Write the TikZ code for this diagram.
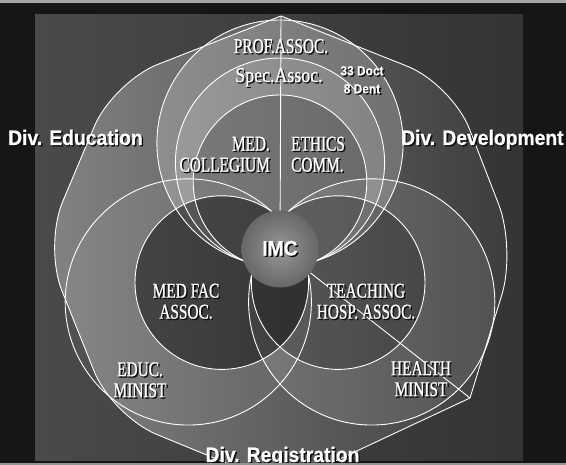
\documentclass[tikz,border=0pt]{standalone}
\usepackage{fontspec}
\setmainfont{Liberation Serif}
\newfontfamily\capsfont[FakeStretch=0.73,FakeBold=0.8]{Liberation Serif}
\newfontfamily\specfont[FakeStretch=0.85,FakeBold=0.8]{Liberation Serif}
\newfontfamily\divfont[FakeStretch=0.92,FakeBold=0.5]{Liberation Sans}
\usetikzlibrary{positioning}
\definecolor{frameblack}{HTML}{161616}
\definecolor{panelleft}{HTML}{4A4A4A}
\definecolor{panelright}{HTML}{343434}
\definecolor{octleft}{HTML}{838383}
\definecolor{octright}{HTML}{3C3C3C}
\definecolor{imclight}{HTML}{979797}
\definecolor{imcdark}{HTML}{676767}
\definecolor{shadowgray}{HTML}{0E0E0E}
\newcommand{\shd}[1]{\rlap{\kern1.4pt\lower1.4pt\hbox{\color{shadowgray}#1}}#1}
\tikzset{
  rim/.style={draw=white, line width=0.9pt},
  lighten/.style={fill=white, fill opacity=#1},
  darken/.style={fill=black, fill opacity=#1},
  hub/.style={circle, minimum size=77pt, inner sep=0pt, inner color=imclight, outer color=imcdark, text=white, font=\divfont\bfseries\fontsize{21}{22}\selectfont},
  orgname/.style={text=white, font=\capsfont\fontsize{21}{21}\selectfont, align=center, inner sep=0pt},
  divname/.style={text=white, font=\divfont\bfseries\fontsize{21}{22}\selectfont, inner sep=0pt},
  countlbl/.style={text=white, font=\divfont\bfseries\fontsize{13}{18}\selectfont, align=center, inner sep=0pt}
}
\begin{document}
\begin{tikzpicture}[x=1pt, y=1pt]
  \useasboundingbox (0,0) rectangle (566,465);
  \clip (0,0) rectangle (566,465);
  % frame and panel
  \fill[frameblack] (0,0) rectangle (566,465);
  \shade[left color=panelleft, right color=panelright] (35,4) rectangle (523,450);

  \coordinate (o) at (280,216);
  \coordinate (top) at (281,449);
  \coordinate (ul) at (113,383);
  \coordinate (l) at (44,219);
  \coordinate (bl) at (112,49);
  \coordinate (b) at (282,-21);
  \coordinate (br) at (470,67);
  \coordinate (r) at (516,216);
  \coordinate (ur) at (452,381);

  % divisions
  \draw[rim, left color=octleft, right color=octright]
    (br) [rounded corners=48pt] -- (r) -- (ur) [sharp corners] -- (top)
    [rounded corners=48pt] -- (ul) -- (l) -- (bl) -- (b) [sharp corners] -- cycle;

  \path (o) ++(90:105.9pt) coordinate (prof-c) (o) ++(90:86.4pt) coordinate (spec-c)
        (o) ++(90:67.2pt) coordinate (coll-c)
        (o) ++(210:105.9pt) coordinate (educ-c) (o) ++(210:67.2pt) coordinate (fac-c)
        (o) ++(330:105.9pt) coordinate (health-c) (o) ++(330:67.2pt) coordinate (hosp-c);

  % circle fills
  \fill[lighten=.05] (educ-c) circle[radius=123.1pt];
  \fill[lighten=.10] (health-c) circle[radius=123.1pt];
  \fill[lighten=.20] (prof-c) circle[radius=123.1pt];
  \fill[lighten=.12] (spec-c) circle[radius=104.6pt];
  \fill[darken=.20] (coll-c) circle[radius=86.8pt];
  \fill[darken=.45] (fac-c) circle[radius=86.8pt];
  \fill[darken=.22] (hosp-c) circle[radius=86.8pt];

  % circle outlines
  \draw[rim] (educ-c) circle[radius=123.1pt];
  \draw[rim] (health-c) circle[radius=123.1pt];
  \draw[rim] (prof-c) circle[radius=123.1pt];
  \draw[rim] (spec-c) circle[radius=104.6pt];
  \draw[rim] (coll-c) circle[radius=86.8pt];
  \draw[rim] (fac-c) circle[radius=86.8pt];
  \draw[rim] (hosp-c) circle[radius=86.8pt];

  \node[hub] (imc) at (o) {\shd{IMC}};
  \draw[rim] (imc) -- (top);
  \draw[rim] (imc) -- (br);

  \node[orgname, anchor=base] (lbl-prof) at (281,412) {\shd{PROF.ASSOC.}};
  \node[orgname, font=\specfont\fontsize{21}{21}\selectfont, anchor=base] (lbl-spec) at (279,383) {\shd{Spec.Assoc.}};
  \node[countlbl] (lbl-count) at (362,384.5) {\shd{33 Doct}\\\shd{8 Dent}};
  \node[orgname, align=right, anchor=east] (lbl-med) at (270,310) {\shd{MED.}\\\shd{COLLEGIUM}};
  \node[orgname, align=left, right=21pt of lbl-med] (lbl-ethics) {\shd{ETHICS}\\\shd{COMM.}};
  \node[orgname] (lbl-fac) at (186,163) {\shd{MED FAC}\\\shd{ASSOC.}};
  \node[orgname] (lbl-hosp) at (366,163) {\shd{TEACHING}\\\shd{HOSP. ASSOC.}};
  \node[orgname] (lbl-educ) at (140,84.5) {\shd{EDUC.}\\\shd{MINIST}};
  \node[orgname] (lbl-health) at (421,85.5) {\shd{HEALTH}\\\shd{MINIST}};

  \node[divname, anchor=base west] (div-edu) at (8,320) {\shd{Div. Education}};
  \node[divname, anchor=base west] (div-dev) at (401,320) {\shd{Div. Development}};
  \node[divname, anchor=base] (div-reg) at (282.5,3) {\shd{Div. Registration}};

  % scan edges
  \fill[gray!70] (0,461.5) rectangle (566,465);
  \fill[gray!85] (0,0) rectangle (566,2);
\end{tikzpicture}
\end{document}
